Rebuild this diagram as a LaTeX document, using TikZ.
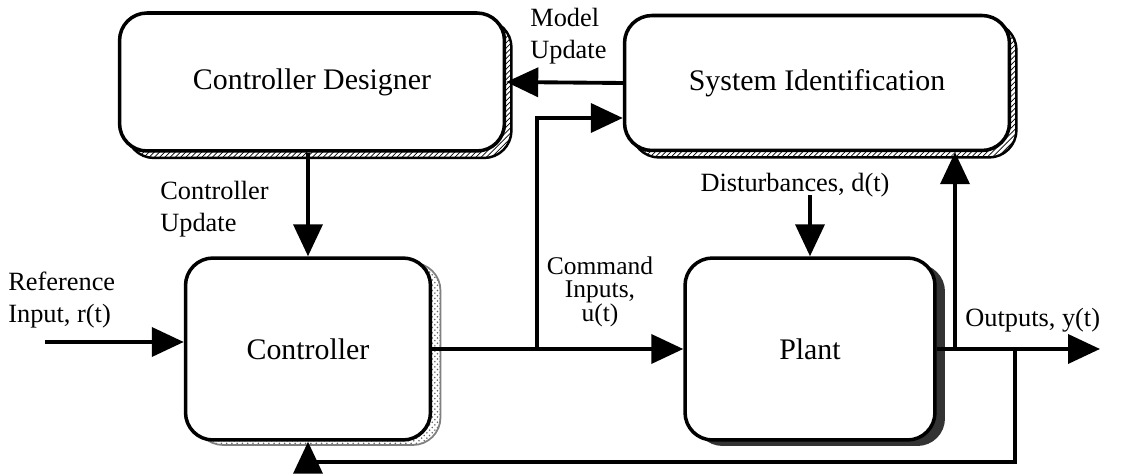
\documentclass[tikz,border=0pt]{standalone}
\usepackage{fontspec}
\setmainfont{Liberation Serif}
\usetikzlibrary{arrows.meta,positioning,shadows,patterns}

\begin{document}
\begin{tikzpicture}
        [x=0.02cm,y=-0.02cm,
          block/.style={draw,line width=2pt,rounded corners=0.55cm,fill=white,
            font=\fontsize{17}{20}\selectfont},
          hatchshadow/.style={general shadow={shadow xshift=1.4mm,shadow yshift=-1.4mm,
            draw,line width=1.4pt,pattern=north east lines}},
          dotshadow/.style={general shadow={shadow xshift=2mm,shadow yshift=-1mm,
            draw=gray,line width=1pt,pattern=crosshatch dots,pattern color=black!60}},
          darkshadow/.style={general shadow={shadow xshift=2mm,shadow yshift=-1.2mm,
            fill=black!80}},
          lbl/.style={inner sep=0pt,font=\fontsize{15}{18}\selectfont},
          small lbl/.style={inner sep=0pt,font=\fontsize{14.5}{13}\selectfont},
          flow/.style={line width=2.2pt,-{Triangle[length=6.4mm,width=5.8mm]}}]
        \useasboundingbox (0,0) rectangle (1139,475);
        % blocks
        \node[block,hatchshadow,minimum width=7.7cm,minimum height=2.76cm] (designer) at (312,82) {Controller Designer};
        \node[block,hatchshadow,minimum width=7.7cm,minimum height=2.7cm] (sysid) at (817,83) {System Identification};
        \node[block,dotshadow,minimum width=4.9cm,minimum height=3.64cm] (ctrl) at (308,349) {Controller};
        \node[block,darkshadow,minimum width=5cm,minimum height=3.64cm] (plant) at (810,349) {Plant};
        % labels
        \node[lbl,anchor=north west,align=left] (modelup) at (530,8) {Model\\Update};
        \node[lbl,anchor=west,align=left] (ctrlup) at (160,209) {Controller\\Update};
        \node[lbl,anchor=west,align=left] (refin) at (8,300) {Reference\\Input, r(t)};
        \node[small lbl,align=center] (cmdin) at (600,292) {Command\\Inputs,\\u(t)};
        \node[lbl] (dist) at (795,185) {Disturbances, d(t)};
        \node[lbl,anchor=west] (outs) at (965,320) {Outputs, y(t)};
        % junctions and free ends
        \coordinate (ref) at (45,342);
        \coordinate (utap) at (537,349);
        \coordinate (uhigh) at (0,118);
        \coordinate (ytap) at (955,349);
        \coordinate (fb) at (1015,349);
        \coordinate (low) at (0,462);
        \coordinate (yout) at (1100,349);
        % signal flow
        \draw[flow] (ref) -- (ref -| ctrl.west);
        \draw[flow] (ctrl.east) -- (plant.west);
        \draw[flow] (utap) |- (sysid.west |- uhigh);
        \draw[flow] (sysid.west) -- (designer.east);
        \draw[flow] (designer.south -| ctrl.north) -- (ctrl.north);
        \draw[flow] (dist.south -| plant.north) ++(0,-2) -- (plant.north);
        \draw[flow] (plant.east) -- (yout);
        \draw[flow] (ytap) -- (ytap |- sysid.south);
        \draw[flow] (fb) |- (ctrl.south |- low) -- (ctrl.south);
      \end{tikzpicture}
\end{document}
